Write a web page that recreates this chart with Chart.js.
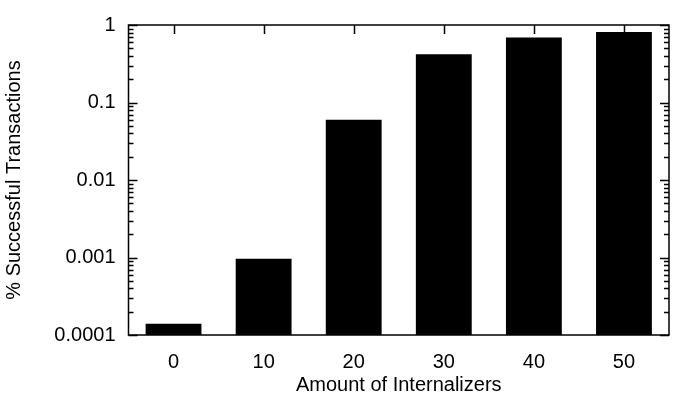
<!DOCTYPE html>
<html>
<head>
<meta charset="utf-8">
<script src="https://cdn.jsdelivr.net/npm/chart.js@4/dist/chart.umd.min.js"></script>
<style>
    html, body { margin: 0; padding: 0; background: #fff; }
    #wrap { width: 679px; height: 397px; }
</style>
</head>
<body>
<div id="wrap"><canvas id="chart"></canvas></div>
<script>
// data
const categories = ['0', '10', '20', '30', '40', '50']
const successRate = [0.00014, 0.00096, 0.06, 0.42, 0.69, 0.81]
const yMin = 0.0001
const yMax = 1

const FONT = "'Liberation Sans', Arial, Helvetica, sans-serif"

// gnuplot style frame with inward ticks
const frameTicks = {
    id: 'frameTicks',
    afterDatasetsDraw(chart) {
        const ctx = chart.ctx
        const a = chart.chartArea
        const x = chart.scales.x
        const y = chart.scales.y
        ctx.save()
        ctx.strokeStyle = '#000'
        ctx.lineWidth = 1.5
        ctx.beginPath()
        // y ticks, left and right
        for (let e = Math.round(Math.log10(yMin)); e <= Math.round(Math.log10(yMax)); e++) {
            for (let k = 1; k <= 9; k++) {
                const v = k * Math.pow(10, e)
                if (v > yMax * 1.0001) break
                const py = Math.round(y.getPixelForValue(v)) + 0.5
                const len = k === 1 ? 9 : 5
                ctx.moveTo(a.left, py)
                ctx.lineTo(a.left + len, py)
                ctx.moveTo(a.right, py)
                ctx.lineTo(a.right - len, py)
            }
        }
        // x ticks along top
        categories.forEach((c, i) => {
            const px = Math.round(x.getPixelForValue(i)) + 0.5
            ctx.moveTo(px, a.top)
            ctx.lineTo(px, a.top + 9)
        })
        ctx.stroke()
        ctx.strokeRect(a.left, a.top, a.right - a.left, a.bottom - a.top)
        ctx.restore()
    }
}

new Chart(document.getElementById('chart'), {
    type: 'bar',
    data: {
        labels: categories,
        datasets: [{
            label: '% Successful Transactions',
            data: successRate,
            backgroundColor: '#000',
            borderWidth: 0,
            barPercentage: 0.62,
            categoryPercentage: 1.0
        }]
    },
    options: {
        responsive: true,
        maintainAspectRatio: false,
        animation: false,
        layout: { padding: { top: 17, right: 10, left: 0, bottom: 0 } },
        plugins: {
            legend: { display: false },
            tooltip: { enabled: false }
        },
        scales: {
            x: {
                type: 'category',
                grid: { display: false },
                border: { display: false },
                ticks: {
                    color: '#000',
                    padding: 7,
                    maxRotation: 0,
                    font: { family: FONT, size: 20 }
                },
                title: {
                    display: true,
                    text: 'Amount of Internalizers',
                    color: '#000',
                    padding: { top: 0, bottom: 0 },
                    font: { family: FONT, size: 20 }
                },
                afterFit(scale) { scale.height = 62 }
            },
            y: {
                type: 'logarithmic',
                min: yMin,
                max: yMax,
                grid: { display: false, drawTicks: false },
                border: { display: false },
                ticks: {
                    color: '#000',
                    padding: 13,
                    autoSkip: false,
                    font: { family: FONT, size: 20 },
                    callback(value) {
                        const e = Math.log10(value)
                        if (Math.abs(e - Math.round(e)) > 1e-9) return null
                        return String(Number(value.toPrecision(1)))
                    }
                },
                title: {
                    display: true,
                    text: '% Successful Transactions',
                    color: '#000',
                    padding: { top: 2, bottom: 0 },
                    font: { family: FONT, size: 20 }
                },
                afterFit(scale) { scale.width = 128.5 }
            }
        }
    },
    plugins: [frameTicks]
})
</script>
</body>
</html>
